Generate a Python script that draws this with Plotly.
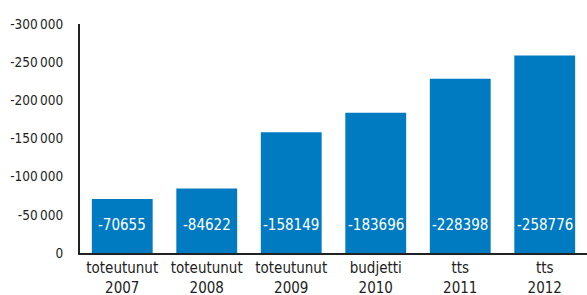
import plotly.graph_objects as go

categories = ["toteutunut<br>2007", "toteutunut<br>2008", "toteutunut<br>2009",
              "budjetti<br>2010", "tts<br>2011", "tts<br>2012"]
values = [-70655, -84622, -158149, -183696, -228398, -258776]
tick_vals = [0, -50000, -100000, -150000, -200000, -250000, -300000]
tick_text = ["0", "-50\u2009000", "-100\u2009000", "-150\u2009000", "-200\u2009000",
             "-250\u2009000", "-300\u2009000"]

FONT = "Liberation Sans Narrow, Arial Narrow, DejaVu Sans Condensed, sans-serif"
BLUE = "#007AC1"

fig = go.Figure()
fig.add_trace(go.Bar(x=categories, y=values, marker=dict(color=BLUE, line=dict(width=0)),
                     hoverinfo="skip"))

for c, v in zip(categories, values):
    fig.add_annotation(x=c, y=0, text=str(v), showarrow=False, yanchor="middle",
                       yshift=28, font=dict(family=FONT, size=15, color="white"))

fig.update_layout(
    width=587, height=295,
    margin=dict(l=80, r=0, t=24, b=42),
    paper_bgcolor="white", plot_bgcolor="white",
    bargap=0.28, showlegend=False,
    font=dict(family=FONT, size=14, color="#222"),
)
fig.update_yaxes(range=[0, -300000], tickvals=tick_vals, ticktext=tick_text,
                 showgrid=False, zeroline=False, showline=True, linecolor="#222",
                 linewidth=2, ticks="", ticklabelstandoff=12, automargin=False,
                 tickfont=dict(family=FONT, size=13.5, color="#222"))
fig.update_xaxes(showgrid=False, showline=True, linecolor="#222", linewidth=2,
                 ticks="", automargin=False, ticklabelstandoff=0,
                 tickfont=dict(family=FONT, size=15, color="#222"))

fig.write_html(
    "out.html",
    config={"displayModeBar": False},
    post_script="document.body.style.margin='0';document.body.style.overflow='hidden';"
                "document.documentElement.style.overflow='hidden';",
)
